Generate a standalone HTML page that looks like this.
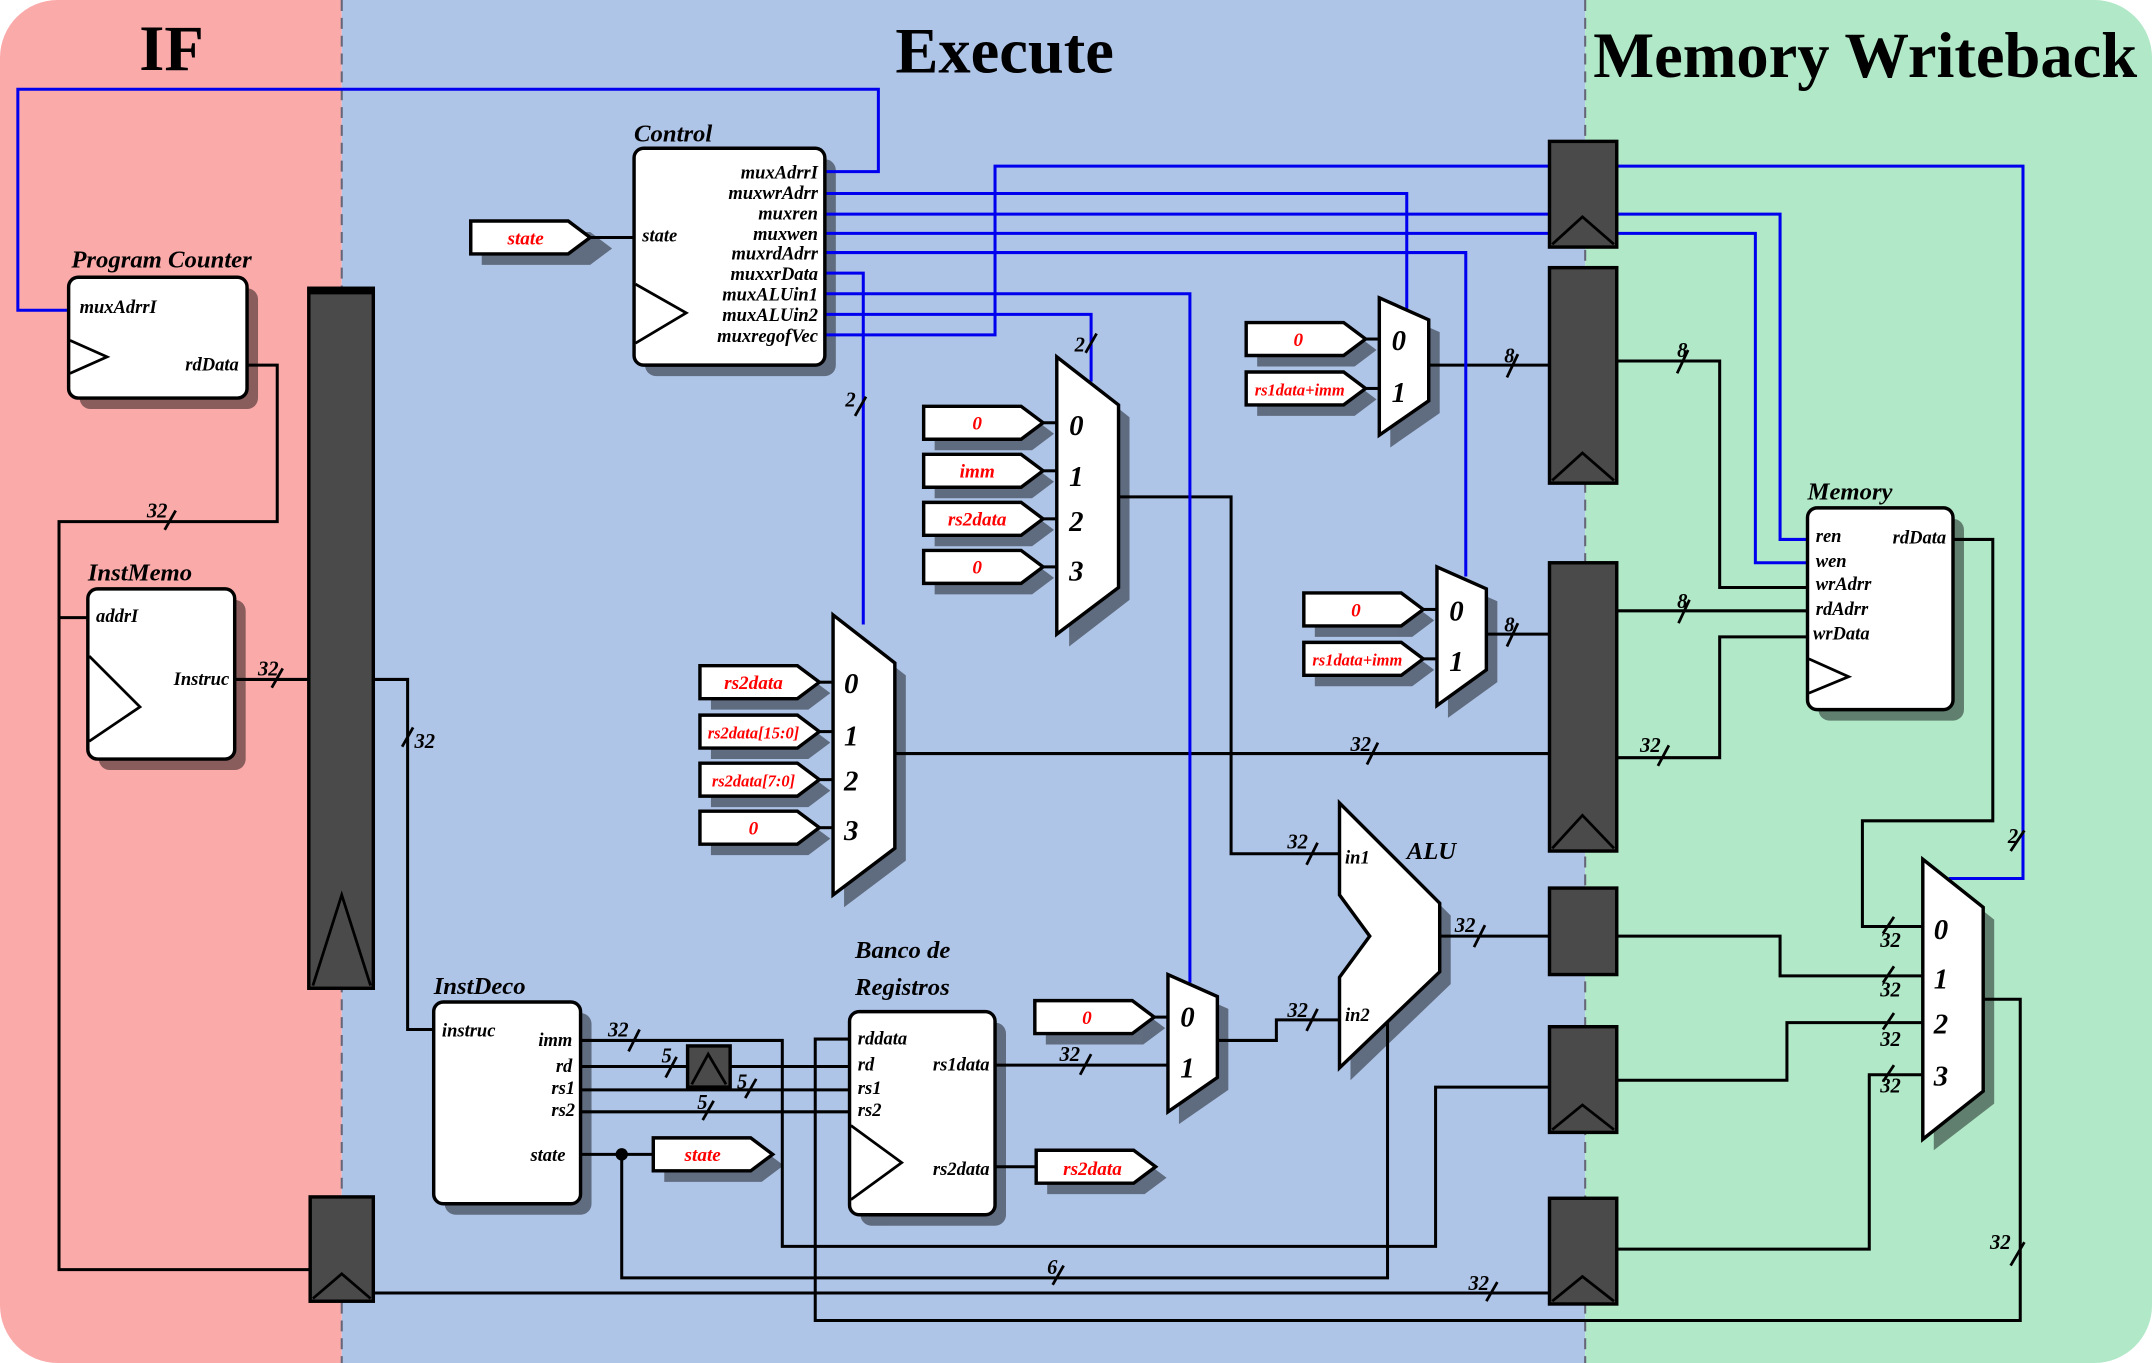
<!DOCTYPE html>
<html><head><meta charset="utf-8"><style>html,body{margin:0;padding:0;background:#fff}svg{display:block}</style></head>
<body>
<svg width="2152" height="1363" viewBox="0 0 1568 993" preserveAspectRatio="none" xmlns="http://www.w3.org/2000/svg" font-family="Liberation Serif, serif">
<defs>
<clipPath id="cl"><rect x="0" y="0" width="1568" height="993" rx="42"/></clipPath>
</defs>
<g clip-path="url(#cl)">
<rect x="0" y="0" width="249" height="993" fill="#fbaaaa"/>
<rect x="249" y="0" width="906" height="993" fill="#afc5e8"/>
<rect x="1155" y="0" width="413" height="993" fill="#b0e8c8"/>
</g>
<line x1="249" y1="0" x2="249" y2="993" stroke="#667" stroke-width="1.5" stroke-dasharray="8,5"/>
<line x1="1155" y1="0" x2="1155" y2="993" stroke="#667" stroke-width="1.5" stroke-dasharray="8,5"/>
<g font-weight="bold" font-size="47" text-anchor="middle">
<text x="125" y="51">IF</text><text x="732" y="53">Execute</text><text x="1359" y="56">Memory Writeback</text>
</g>

<!-- shadows -->
<g fill="#000" opacity="0.45">
<rect x="58" y="210" width="130" height="88" rx="8"/>
<rect x="72" y="437" width="107" height="124" rx="8"/>
<rect x="470" y="116" width="139" height="158" rx="8"/>
<rect x="324" y="738" width="107" height="147" rx="8"/>
<rect x="627" y="745" width="106" height="148" rx="8"/>
<rect x="1325" y="378" width="106" height="147" rx="8"/>
<polygon points="779,269 823,304 823,437 779,471"/>
<polygon points="615,457 660,492 660,627 615,661"/>
<polygon points="1013,226 1049,242 1049,301 1013,326"/>
<polygon points="1055,422 1091,438 1091,497 1055,523"/>
<polygon points="859,719 895,735 895,794 859,819"/>
<polygon points="984,594 1057,667 1057,717 984,787 984,721 1006,691 984,661"/>
<polygon points="351,169 430,169 446,181 430,193 351,193"/>
<polygon points="681,304 752,304 768,316 752,328 681,328"/>
<polygon points="681,339 752,339 768,351 752,363 681,363"/>
<polygon points="681,374 752,374 768,386 752,398 681,398"/>
<polygon points="681,409 752,409 768,421 752,433 681,433"/>
<polygon points="518,493 589,493 605,505 589,517 518,517"/>
<polygon points="518,529 589,529 605,541 589,553 518,553"/>
<polygon points="518,564 589,564 605,576 589,588 518,588"/>
<polygon points="518,599 589,599 605,611 589,623 518,623"/>
<polygon points="916,243 987,243 1003,255 987,267 916,267"/>
<polygon points="916,279 987,279 1003,291 987,303 916,303"/>
<polygon points="958,440 1029,440 1045,452 1029,464 958,464"/>
<polygon points="958,476 1029,476 1045,488 1029,500 958,500"/>
<polygon points="762,737 833,737 849,749 833,761 762,761"/>
<polygon points="484,837 555,837 571,849 555,861 484,861"/>
<polygon points="763,846 834,846 850,858 834,870 763,870"/>
<polygon points="1409,635 1453,670 1453,804 1409,838"/>
</g>

<!-- black wires -->
<g stroke="#000" stroke-width="2.2" fill="none">
<polyline points="180,266 202,266 202,380 43,380 43,925 226,925"/>
<line x1="43" y1="450" x2="64" y2="450"/>
<line x1="171" y1="495" x2="225" y2="495"/>
<polyline points="272,495 297,495 297,750 316,750"/>
<line x1="272" y1="942" x2="1129" y2="942"/>
<line x1="430" y1="173" x2="462" y2="173"/>
<polyline points="423,758 570,758 570,908 1046,908 1046,792 1129,792"/>
<line x1="423" y1="777" x2="500" y2="777"/>
<line x1="532" y1="777" x2="619" y2="777"/>
<line x1="423" y1="794" x2="619" y2="794"/>
<line x1="423" y1="810" x2="619" y2="810"/>
<polyline points="619,757 594,757 594,962 1472,962 1472,728 1445,728"/>
<line x1="423" y1="841" x2="476" y2="841"/>
<polyline points="453,841 453,931 1011,931 1011,745"/>
<line x1="725" y1="776" x2="851" y2="776"/>
<line x1="725" y1="850" x2="755" y2="850"/>
<polyline points="887,758 930,758 930,743 976,743"/>
<polyline points="815,362 897,362 897,622 976,622"/>
<line x1="652" y1="549" x2="1129" y2="549"/>
<line x1="1041" y1="266" x2="1129" y2="266"/>
<line x1="1083" y1="462" x2="1129" y2="462"/>
<line x1="1049" y1="682" x2="1129" y2="682"/>
<polyline points="1178,682 1297,682 1297,711 1401,711"/>
<polyline points="1178,787 1302,787 1302,745 1401,745"/>
<polyline points="1178,910 1362,910 1362,783 1401,783"/>
<polyline points="1178,263 1253,263 1253,428 1317,428"/>
<line x1="1178" y1="445" x2="1317" y2="445"/>
<polyline points="1178,552 1253,552 1253,464 1317,464"/>
<polyline points="1423,393 1452,393 1452,598 1357,598 1357,675 1401,675"/>
<line x1="760" y1="308" x2="770" y2="308"/><line x1="760" y1="343" x2="770" y2="343"/>
<line x1="760" y1="378" x2="770" y2="378"/><line x1="760" y1="413" x2="770" y2="413"/>
<line x1="597" y1="497" x2="607" y2="497"/><line x1="597" y1="533" x2="607" y2="533"/>
<line x1="597" y1="568" x2="607" y2="568"/><line x1="597" y1="603" x2="607" y2="603"/>
<line x1="995" y1="247" x2="1005" y2="247"/><line x1="995" y1="283" x2="1005" y2="283"/>
<line x1="1037" y1="444" x2="1047" y2="444"/><line x1="1037" y1="480" x2="1047" y2="480"/>
<line x1="841" y1="741" x2="851" y2="741"/>
</g>
<circle cx="453" cy="841" r="4.5" fill="#000"/>

<!-- blue wires -->
<g stroke="#0000ee" stroke-width="2.2" fill="none">
<polyline points="50,226 13,226 13,65 640,65 640,125 601,125"/>
<polyline points="601,244 725,244 725,121 1129,121"/>
<polyline points="1178,121 1474,121 1474,640 1420,640"/>
<polyline points="601,141 1025,141 1025,225"/>
<line x1="601" y1="156" x2="1129" y2="156"/>
<line x1="601" y1="170" x2="1129" y2="170"/>
<polyline points="1178,156 1297,156 1297,393 1317,393"/>
<polyline points="1178,170 1279,170 1279,410 1317,410"/>
<polyline points="601,184 1068,184 1068,420"/>
<polyline points="601,199 629,199 629,455"/>
<polyline points="601,214 867,214 867,716"/>
<polyline points="601,229 795,229 795,278"/>
</g>

<!-- bus slashes -->
<g stroke="#000" stroke-width="2" >
<line x1="120" y1="386" x2="128" y2="372"/>
<line x1="198" y1="501" x2="206" y2="487"/>
<line x1="293" y1="544" x2="301" y2="530"/>
<line x1="623" y1="303" x2="631" y2="289"/>
<line x1="791" y1="257" x2="799" y2="243"/>
<line x1="1098" y1="275" x2="1106" y2="258"/>
<line x1="1098" y1="471" x2="1106" y2="454"/>
<line x1="1222" y1="272" x2="1230" y2="255"/>
<line x1="1223" y1="454" x2="1231" y2="437"/>
<line x1="1208" y1="558" x2="1216" y2="543"/>
<line x1="996" y1="557" x2="1004" y2="541"/>
<line x1="952" y1="630" x2="960" y2="614"/>
<line x1="952" y1="751" x2="960" y2="735"/>
<line x1="1074" y1="690" x2="1082" y2="674"/>
<line x1="787" y1="783" x2="795" y2="768"/>
<line x1="458" y1="766" x2="466" y2="750"/>
<line x1="485" y1="785" x2="493" y2="770"/>
<line x1="543" y1="800" x2="551" y2="786"/>
<line x1="512" y1="816" x2="520" y2="802"/>
<line x1="767" y1="936" x2="775" y2="922"/>
<line x1="1083" y1="948" x2="1091" y2="934"/>
<line x1="1465" y1="922" x2="1475" y2="905"/>
<line x1="1465" y1="620" x2="1475" y2="605"/>
<line x1="1372" y1="680" x2="1380" y2="668"/>
<line x1="1372" y1="716" x2="1380" y2="704"/>
<line x1="1372" y1="750" x2="1380" y2="738"/>
<line x1="1372" y1="788" x2="1380" y2="776"/>
</g>
<g font-size="15" font-weight="bold" font-style="italic">
<text x="107" y="377">32</text><text x="188" y="492">32</text><text x="302" y="545">32</text>
<text x="616" y="296">2</text><text x="783" y="256">2</text><text x="1096" y="264">8</text><text x="1096" y="460">8</text>
<text x="1222" y="260">8</text><text x="1222" y="443">8</text><text x="1195" y="548">32</text><text x="984" y="547">32</text>
<text x="938" y="618">32</text><text x="938" y="741">32</text><text x="1060" y="679">32</text><text x="772" y="773">32</text>
<text x="443" y="755">32</text><text x="482" y="774">5</text><text x="537" y="793">5</text><text x="508" y="808">5</text>
<text x="763" y="928">6</text><text x="1070" y="940">32</text><text x="1450" y="910">32</text><text x="1463" y="614">2</text>
<text x="1370" y="690">32</text><text x="1370" y="726">32</text><text x="1370" y="762">32</text><text x="1370" y="796">32</text>
</g>

<!-- pipeline registers -->
<g fill="#4a4a4a" stroke="#000" stroke-width="2.5">
<rect x="225" y="210" width="47" height="510"/>
<rect x="226" y="872" width="46" height="76"/>
<rect x="1129" y="103" width="49" height="77"/>
<rect x="1129" y="195" width="49" height="157"/>
<rect x="1129" y="410" width="49" height="210"/>
<rect x="1129" y="647" width="49" height="63"/>
<rect x="1129" y="748" width="49" height="77"/>
<rect x="1129" y="873" width="49" height="77"/>
<rect x="501" y="762" width="31" height="30"/>
</g>
<line x1="225" y1="212" x2="272" y2="212" stroke="#000" stroke-width="5"/>
<g fill="none" stroke="#000" stroke-width="2">
<polyline points="228,718 249,652 270,718"/>
<polyline points="228,946 249,928 270,946"/>
<polyline points="1131,178 1153,158 1176,178"/>
<polyline points="1131,350 1153,330 1176,350"/>
<polyline points="1131,618 1153,594 1176,618"/>
<polyline points="1131,823 1153,805 1176,823"/>
<polyline points="1131,948 1153,930 1176,948"/>
<polyline points="504,790 516,768 529,790"/>
</g>

<!-- component boxes -->
<g fill="#fff" stroke="#000" stroke-width="2.5">
<rect x="50" y="202" width="130" height="88" rx="7"/>
<rect x="64" y="429" width="107" height="124" rx="7"/>
<rect x="462" y="108" width="139" height="158" rx="7"/>
<rect x="316" y="730" width="107" height="147" rx="7"/>
<rect x="619" y="737" width="106" height="148" rx="7"/>
<rect x="1317" y="370" width="106" height="147" rx="7"/>
<polygon points="770,260 815,295 815,428 770,462"/>
<polygon points="607,448 652,483 652,618 607,652"/>
<polygon points="1005,217 1041,233 1041,292 1005,317"/>
<polygon points="1047,413 1083,429 1083,488 1047,514"/>
<polygon points="851,710 887,726 887,785 851,810"/>
<polygon points="976,585 1049,658 1049,708 976,778 976,712 998,682 976,652"/>
<polygon points="1401,626 1445,661 1445,795 1401,830"/>
</g>
<g fill="none" stroke="#000" stroke-width="2">
<polyline points="51,248 78,260 51,272"/>
<polyline points="65,478 102,515 65,540"/>
<polyline points="463,207 500,228 463,250"/>
<polyline points="620,820 657,847 620,874"/>
<polyline points="1318,480 1347,493 1318,505"/>
</g>

<!-- tags -->
<g fill="#fff" stroke="#000" stroke-width="2.5">
<polygon points="343,161 414,161 430,173 414,185 343,185"/>
<polygon points="673,296 744,296 760,308 744,320 673,320"/>
<polygon points="673,331 744,331 760,343 744,355 673,355"/>
<polygon points="673,366 744,366 760,378 744,390 673,390"/>
<polygon points="673,401 744,401 760,413 744,425 673,425"/>
<polygon points="510,485 581,485 597,497 581,509 510,509"/>
<polygon points="510,521 581,521 597,533 581,545 510,545"/>
<polygon points="510,556 581,556 597,568 581,580 510,580"/>
<polygon points="510,591 581,591 597,603 581,615 510,615"/>
<polygon points="908,235 979,235 995,247 979,259 908,259"/>
<polygon points="908,271 979,271 995,283 979,295 908,295"/>
<polygon points="950,432 1021,432 1037,444 1021,456 950,456"/>
<polygon points="950,468 1021,468 1037,480 1021,492 950,492"/>
<polygon points="754,729 825,729 841,741 825,753 754,753"/>
<polygon points="476,829 547,829 563,841 547,853 476,853"/>
<polygon points="755,838 826,838 842,850 826,862 755,862"/>
</g>
<g fill="#ff0000" font-weight="bold" font-style="italic" text-anchor="middle">
<text x="383" y="178" font-size="14">state</text>
<text x="712" y="313" font-size="14">0</text><text x="712" y="348" font-size="14">imm</text>
<text x="712" y="383" font-size="14">rs2data</text><text x="712" y="418" font-size="14">0</text>
<text x="549" y="502" font-size="14">rs2data</text><text x="549" y="538" font-size="12">rs2data[15:0]</text>
<text x="549" y="573" font-size="12">rs2data[7:0]</text><text x="549" y="608" font-size="14">0</text>
<text x="946" y="252" font-size="14">0</text><text x="947" y="288" font-size="12">rs1data+imm</text>
<text x="988" y="449" font-size="14">0</text><text x="989" y="485" font-size="12">rs1data+imm</text>
<text x="792" y="746" font-size="14">0</text>
<text x="512" y="846" font-size="14">state</text>
<text x="796" y="856" font-size="14">rs2data</text>
</g>

<!-- labels -->
<g font-weight="bold" font-style="italic" font-size="18">
<text x="52" y="195">Program Counter</text>
<text x="64" y="423">InstMemo</text>
<text x="462" y="103">Control</text>
<text x="316" y="724">InstDeco</text>
<text x="623" y="698">Banco de</text>
<text x="623" y="725">Registros</text>
<text x="1317" y="364">Memory</text>
<text x="1025" y="626">ALU</text>
</g>
<g font-weight="bold" font-style="italic" font-size="13.5">
<text x="58" y="228">muxAdrrI</text>
<text x="174" y="270" text-anchor="end">rdData</text>
<text x="70" y="453">addrI</text>
<text x="167" y="499" text-anchor="end">Instruc</text>
<text x="468" y="176">state</text>
<g text-anchor="end">
<text x="596" y="130">muxAdrrI</text><text x="596" y="145">muxwrAdrr</text><text x="596" y="160">muxren</text>
<text x="596" y="175">muxwen</text><text x="596" y="189">muxrdAdrr</text><text x="596" y="204">muxxrData</text>
<text x="596" y="219">muxALUin1</text><text x="596" y="234">muxALUin2</text><text x="596" y="249">muxregofVec</text>
<text x="417" y="762">imm</text><text x="417" y="781">rd</text><text x="419" y="797">rs1</text><text x="419" y="813">rs2</text>
<text x="412" y="846">state</text>
<text x="721" y="780">rs1data</text><text x="721" y="856">rs2data</text>
<text x="1418" y="396">rdData</text>
</g>
<text x="322" y="755">instruc</text>
<text x="625" y="761">rddata</text><text x="625" y="780">rd</text><text x="625" y="797">rs1</text><text x="625" y="813">rs2</text>
<text x="1323" y="395">ren</text><text x="1323" y="413">wen</text><text x="1323" y="430">wrAdrr</text>
<text x="1323" y="448">rdAdrr</text><text x="1321" y="466">wrData</text>
<text x="980" y="629">in1</text><text x="980" y="744">in2</text>
</g>
<g font-weight="bold" font-style="italic" font-size="21">
<text x="779" y="317">0</text><text x="779" y="354">1</text><text x="779" y="387">2</text><text x="779" y="423">3</text>
<text x="615" y="505">0</text><text x="615" y="543">1</text><text x="615" y="576">2</text><text x="615" y="612">3</text>
<text x="1014" y="255">0</text><text x="1014" y="293">1</text>
<text x="1056" y="452">0</text><text x="1056" y="489">1</text>
<text x="860" y="748">0</text><text x="860" y="785">1</text>
<text x="1409" y="684">0</text><text x="1409" y="720">1</text><text x="1409" y="753">2</text><text x="1409" y="791">3</text>
</g>
</svg>
</body></html>
